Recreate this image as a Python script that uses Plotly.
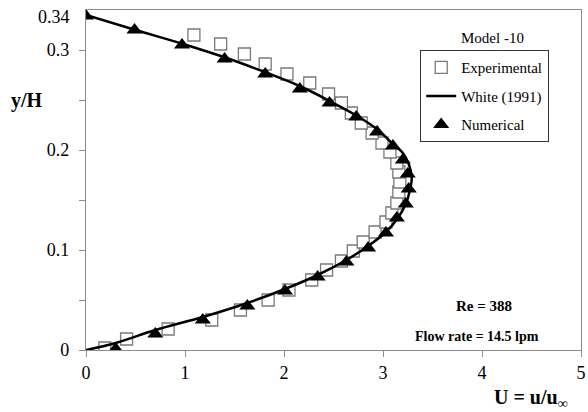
import plotly.graph_objects as go

# Experimental velocity profile (hollow squares)
exp_u = [0.19, 0.41, 0.83, 1.27, 1.56, 1.84, 2.05, 2.28, 2.43, 2.58, 2.70, 2.80, 2.92, 3.03, 3.09, 3.14,
         3.16, 3.17, 3.16, 3.14, 3.07, 2.99, 2.89, 2.78, 2.68, 2.58, 2.45, 2.26, 2.03, 1.81, 1.60, 1.36, 1.09]
exp_y = [0.002, 0.011, 0.021, 0.030, 0.040, 0.050, 0.060, 0.070, 0.080, 0.089, 0.099, 0.108, 0.118, 0.128,
         0.137, 0.147, 0.158, 0.168, 0.178, 0.187, 0.198, 0.207, 0.217, 0.227, 0.237, 0.247, 0.256, 0.267,
         0.276, 0.286, 0.296, 0.306, 0.315]

# Analytical profile, White (1991)
white_u = [0.0, 0.30, 0.70, 1.18, 1.63, 2.01, 2.34, 2.63, 2.85, 3.03, 3.15, 3.23, 3.27, 3.29, 3.26,
           3.20, 3.10, 2.95, 2.74, 2.48, 2.18, 1.83, 1.42, 0.98, 0.50, 0.0]
white_y = [0.0, 0.007, 0.020, 0.033, 0.047, 0.061, 0.075, 0.090, 0.104, 0.118, 0.132, 0.146, 0.159, 0.172,
           0.186, 0.197, 0.206, 0.220, 0.234, 0.248, 0.263, 0.277, 0.292, 0.306, 0.320, 0.335]

# Numerical profile (filled triangles)
num_u = [0.30, 0.70, 1.18, 1.63, 2.01, 2.34, 2.63, 2.85, 3.03, 3.14, 3.23, 3.26, 3.25, 3.20, 3.10,
         2.94, 2.73, 2.46, 2.16, 1.81, 1.40, 0.97, 0.49, 0.0]
num_y = [0.001, 0.016, 0.030, 0.044, 0.059, 0.073, 0.088, 0.102, 0.117, 0.132, 0.146, 0.161, 0.176,
         0.190, 0.204, 0.218, 0.233, 0.247, 0.261, 0.276, 0.291, 0.305, 0.320, 0.334]

x_ticks = [0, 1, 2, 3, 4, 5]
y_ticks = [0, 0.05, 0.1, 0.15, 0.2, 0.25, 0.3]
y_tick_text = ["0", "", "0.1", "", "0.2", "", "0.3"]

SERIF = "Liberation Serif"
AXIS_GREY = "#8c8c8c"

fig = go.Figure()
fig.add_trace(go.Scatter(
    x=exp_u, y=exp_y, mode="markers", name="Experimental", legendgroup="a",
    marker=dict(symbol="square", size=12, color="white",
                line=dict(color="#7a7a7a", width=1.3)),
))
fig.add_trace(go.Scatter(
    x=white_u, y=white_y, mode="lines", name="White (1991)", legendgroup="b",
    line=dict(color="black", width=2.5, shape="spline", smoothing=1.0),
))
fig.add_trace(go.Scatter(
    x=num_u, y=num_y, mode="markers", name="Numerical", legendgroup="c",
    marker=dict(symbol="triangle-up", size=14, color="black"),
))

fig.update_layout(
    template="none",
    width=588, height=412,
    margin=dict(l=86, r=7, t=10, b=62),
    paper_bgcolor="white", plot_bgcolor="white",
    font=dict(family=SERIF, color="black", size=18),
    legend=dict(
        x=(420 - 86) / 495, y=(350 - 50) / 340, xanchor="left", yanchor="top",
        bordercolor="#333333", borderwidth=1.2, bgcolor="white",
        font=dict(family=SERIF, size=15, color="black"), tracegroupgap=6,
        itemwidth=30, entrywidth=110, entrywidthmode="pixels",
    ),
    xaxis=dict(
        range=[0, 5], tickvals=x_ticks, ticks="outside", ticklen=6, tickcolor=AXIS_GREY,
        showline=True, linecolor=AXIS_GREY, linewidth=1.2, mirror=True,
        showgrid=False, zeroline=False,
        tickfont=dict(family=SERIF, size=18, color="black"),
    ),
    yaxis=dict(
        range=[0, 0.34], tickvals=y_ticks, ticktext=y_tick_text, ticks="outside", ticklen=6,
        tickcolor=AXIS_GREY, showline=True, linecolor=AXIS_GREY, linewidth=1.2, mirror=True,
        showgrid=False, zeroline=False,
        tickfont=dict(family=SERIF, size=18, color="black"),
        ticklabelstandoff=6,
    ),
)

annotations = [
    dict(text="0.34", x=-(86 - 72) / 495, xanchor="right", y=0.3333, yref="y", size=18),
    dict(text="<b>y/H</b>", x=-(86 - 27) / 495, y=0.25, yref="y", size=20),
    dict(text="<b>U = u/u<sub>∞</sub></b>", x=(531 - 86) / 495, y=-(398 - 350) / 340,
         yref="paper", size=20),
    dict(text="Model -10", x=(492 - 86) / 495, y=0.312, yref="y", size=15),
    dict(text="<b>Re = 388</b>", x=(484 - 86) / 495, y=0.044, yref="y", size=15),
    dict(text="<b>Flow rate = 14.5 lpm</b>", x=(477 - 86) / 495, y=0.014, yref="y", size=14),
]
for a in annotations:
    size = a.pop("size")
    a.setdefault("xref", "paper")
    a.setdefault("xanchor", "center")
    a.update(showarrow=False, yanchor="middle",
             font=dict(family=SERIF, size=size, color="black"))
    fig.add_annotation(**a)

fig.write_html("out.html")
